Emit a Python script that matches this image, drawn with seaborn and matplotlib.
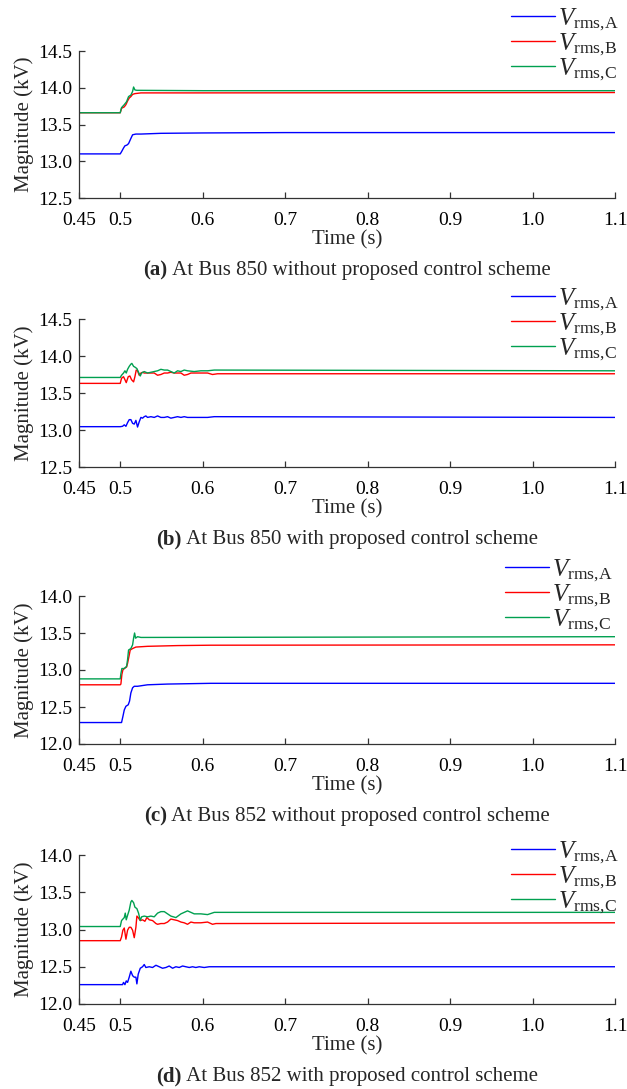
import matplotlib
matplotlib.use("Agg")
import matplotlib.pyplot as plt
import seaborn as sns

# ---------------- data ----------------
# Panel (a): Bus 850 without proposed control scheme
a_t_A = [0.45, 0.5, 0.5016, 0.5040, 0.5057, 0.5081, 0.5101, 0.5129, 0.5150, 0.5190, 0.5251, 0.5493, 0.60, 0.70, 1.1]
a_v_A = [13.10, 13.10, 13.13, 13.18, 13.21, 13.22, 13.24, 13.31, 13.36, 13.37, 13.37, 13.38, 13.385, 13.39, 13.39]
a_t_B = [0.45, 0.5, 0.5016, 0.5049, 0.5069, 0.5089, 0.5109, 0.5129, 0.5150, 0.5178, 0.5251, 0.5897, 1.1]
a_v_B = [13.66, 13.66, 13.72, 13.74, 13.77, 13.82, 13.86, 13.88, 13.91, 13.92, 13.93, 13.93, 13.935]
a_t_C = [0.45, 0.5, 0.5016, 0.5049, 0.5077, 0.5101, 0.5129, 0.5150, 0.5162, 0.5178, 0.5202, 0.60, 1.1]
a_v_C = [13.66, 13.66, 13.73, 13.77, 13.81, 13.88, 13.90, 13.95, 14.01, 13.97, 13.965, 13.96, 13.96]

# Panel (b): Bus 850 with proposed control scheme
b_t_A = [0.45, 0.5, 0.5028, 0.5049, 0.5069, 0.5089, 0.5109, 0.5129, 0.5150, 0.5170, 0.5190, 0.5210, 0.5230,
         0.5251, 0.5271, 0.5291, 0.5311, 0.5331, 0.5372, 0.5412, 0.5453, 0.5493, 0.5534, 0.5574, 0.5614,
         0.5655, 0.5695, 0.5736, 0.5776, 0.5816, 0.5897, 0.5978, 0.6059, 0.6140, 1.1]
b_v_A = [13.045, 13.045, 13.05, 13.07, 13.05, 13.10, 13.14, 13.14, 13.09, 13.08, 13.13, 13.04, 13.11,
         13.17, 13.16, 13.18, 13.19, 13.17, 13.18, 13.17, 13.19, 13.17, 13.17, 13.18, 13.16,
         13.17, 13.18, 13.17, 13.18, 13.17, 13.17, 13.17, 13.17, 13.18, 13.17]
b_t_B = [0.45, 0.5, 0.5016, 0.5040, 0.5057, 0.5073, 0.5097, 0.5117, 0.5137, 0.5162, 0.5178, 0.5194, 0.5210,
         0.5230, 0.5251, 0.5271, 0.5291, 0.5331, 0.5372, 0.5412, 0.5453, 0.5493, 0.5534, 0.5574, 0.5614,
         0.5655, 0.5736, 0.5776, 0.5816, 0.5857, 0.5897, 0.5978, 0.6059, 0.6119, 0.6180, 1.1]
b_v_B = [13.63, 13.63, 13.70, 13.72, 13.68, 13.64, 13.72, 13.73, 13.68, 13.65, 13.72, 13.81, 13.80,
         13.74, 13.77, 13.78, 13.77, 13.77, 13.77, 13.77, 13.74, 13.75, 13.77, 13.77, 13.78,
         13.77, 13.77, 13.74, 13.75, 13.77, 13.77, 13.77, 13.77, 13.75, 13.76, 13.76]
b_t_C = [0.45, 0.5, 0.5016, 0.5040, 0.5057, 0.5073, 0.5089, 0.5109, 0.5129, 0.5141, 0.5162, 0.5178, 0.5202,
         0.5218, 0.5243, 0.5259, 0.5291, 0.5331, 0.5412, 0.5453, 0.5493, 0.5534, 0.5574, 0.5614, 0.5655,
         0.5695, 0.5736, 0.5776, 0.5816, 0.5897, 0.5978, 0.6059, 0.6140, 1.1]
b_v_C = [13.71, 13.71, 13.74, 13.77, 13.80, 13.77, 13.82, 13.86, 13.89, 13.90, 13.86, 13.85, 13.83,
         13.79, 13.73, 13.77, 13.79, 13.77, 13.79, 13.80, 13.82, 13.81, 13.81, 13.79, 13.77,
         13.80, 13.79, 13.81, 13.80, 13.79, 13.80, 13.80, 13.81, 13.80]

# Panel (c): Bus 852 without proposed control scheme
c_t_A = [0.45, 0.5016, 0.5032, 0.5049, 0.5069, 0.5097, 0.5113, 0.5129, 0.5150, 0.5170, 0.5210, 0.5331, 0.5574, 0.6099, 1.1]
c_v_A = [12.29, 12.29, 12.37, 12.46, 12.51, 12.53, 12.58, 12.69, 12.76, 12.78, 12.78, 12.80, 12.81, 12.82, 12.82]
c_t_B = [0.45, 0.5, 0.5008, 0.5020, 0.5032, 0.5049, 0.5077, 0.5089, 0.5109, 0.5121, 0.5150, 0.5190, 0.5331, 0.5695, 0.6099, 1.1]
c_v_B = [12.80, 12.80, 12.81, 12.94, 13.00, 13.02, 13.04, 13.09, 13.20, 13.27, 13.29, 13.31, 13.32, 13.33, 13.335, 13.34]
c_t_C = [0.45, 0.5, 0.5008, 0.5020, 0.5049, 0.5077, 0.5089, 0.5101, 0.5129, 0.5150, 0.5162, 0.5174, 0.5186, 0.5210, 0.5251, 1.1]
c_v_C = [12.88, 12.88, 12.95, 13.02, 13.02, 13.05, 13.14, 13.27, 13.29, 13.34, 13.43, 13.50, 13.43, 13.45, 13.44, 13.45]

# Panel (d): Bus 852 with proposed control scheme
d_t_A = [0.45, 0.5, 0.5028, 0.5040, 0.5057, 0.5073, 0.5089, 0.5109, 0.5129, 0.5150, 0.5170, 0.5190, 0.5202,
         0.5218, 0.5243, 0.5271, 0.5291, 0.5311, 0.5352, 0.5392, 0.5433, 0.5473, 0.5513, 0.5554, 0.5594,
         0.5635, 0.5675, 0.5715, 0.5756, 0.5796, 0.5837, 0.5877, 0.5917, 0.5958, 0.6018, 0.6079, 0.6140, 1.1]
d_v_A = [12.26, 12.26, 12.26, 12.29, 12.26, 12.31, 12.29, 12.36, 12.44, 12.38, 12.36, 12.36, 12.27,
         12.40, 12.48, 12.50, 12.53, 12.49, 12.50, 12.49, 12.52, 12.50, 12.48, 12.49, 12.51,
         12.48, 12.50, 12.49, 12.51, 12.50, 12.49, 12.50, 12.49, 12.50, 12.49, 12.50, 12.50, 12.50]
d_t_B = [0.45, 0.5, 0.5016, 0.5032, 0.5049, 0.5069, 0.5089, 0.5109, 0.5129, 0.5150, 0.5170, 0.5190, 0.5202,
         0.5218, 0.5243, 0.5271, 0.5299, 0.5323, 0.5352, 0.5392, 0.5433, 0.5453, 0.5493, 0.5534, 0.5574,
         0.5614, 0.5655, 0.5695, 0.5736, 0.5776, 0.5816, 0.5857, 0.5897, 0.5978, 0.6059, 0.6119, 0.6160, 1.1]
d_v_B = [12.85, 12.85, 12.90, 12.99, 13.02, 12.87, 12.99, 13.03, 13.03, 12.99, 12.89, 13.03, 13.18,
         13.16, 13.12, 13.13, 13.11, 13.16, 13.13, 13.12, 13.08, 13.07, 13.08, 13.08, 13.10,
         13.14, 13.13, 13.12, 13.10, 13.09, 13.07, 13.10, 13.09, 13.09, 13.10, 13.07, 13.08, 13.09]
d_t_C = [0.45, 0.5, 0.5016, 0.5032, 0.5049, 0.5061, 0.5073, 0.5089, 0.5109, 0.5129, 0.5141, 0.5162, 0.5178,
         0.5202, 0.5222, 0.5243, 0.5259, 0.5291, 0.5331, 0.5372, 0.5412, 0.5453, 0.5493, 0.5534, 0.5574,
         0.5614, 0.5675, 0.5736, 0.5816, 0.5857, 0.5897, 0.5978, 0.6059, 0.6140, 0.6180, 1.1]
d_v_C = [13.04, 13.04, 13.12, 13.14, 13.16, 13.22, 13.13, 13.19, 13.26, 13.37, 13.39, 13.36, 13.30,
         13.28, 13.22, 13.12, 13.17, 13.18, 13.17, 13.18, 13.17, 13.22, 13.24, 13.24, 13.21,
         13.18, 13.16, 13.21, 13.25, 13.23, 13.21, 13.21, 13.20, 13.23, 13.23, 13.23]

x_ticks = [0.45, 0.5, 0.6, 0.7, 0.8, 0.9, 1.0, 1.1]
x_tick_labels = ["0.45", "0.5", "0.6", "0.7", "0.8", "0.9", "1.0", "1.1"]
y_ticks_850 = [12.5, 13.0, 13.5, 14.0, 14.5]
y_ticks_852 = [12.0, 12.5, 13.0, 13.5, 14.0]
series_labels = [r"$V_{\mathrm{rms,\!A}}$", r"$V_{\mathrm{rms,\!B}}$", r"$V_{\mathrm{rms,\!C}}$"]
caption_tags = ["(a)", "(b)", "(c)", "(d)"]
caption_texts = [" At Bus 850 without proposed control scheme",
                 " At Bus 850 with proposed control scheme",
                 " At Bus 852 without proposed control scheme",
                 " At Bus 852 with proposed control scheme"]

# ---------------- style ----------------
sns.set_theme(style="ticks")
plt.rcParams["font.family"] = ["Liberation Serif", "DejaVu Serif"]
plt.rcParams["mathtext.fontset"] = "custom"
plt.rcParams["mathtext.rm"] = "Liberation Serif"
plt.rcParams["mathtext.it"] = "Liberation Serif:italic"
plt.rcParams["mathtext.bf"] = "Liberation Serif:bold"

colors = ["#0000ff", "#ff0000", "#00a050"]
W, H = 627, 1089
fig = plt.figure(figsize=(W / 100, H / 100), dpi=100)

# axes boxes in pixels (left, top, right, bottom)
boxes = [(79, 51, 615, 198), (79, 319, 615, 467), (79, 596, 615, 744), (79, 855, 615, 1004)]
legend_pos = [(511, 6), (511, 286), (505, 557), (511, 839)]

panels = [
    (a_t_A, a_v_A, a_t_B, a_v_B, a_t_C, a_v_C, y_ticks_850),
    (b_t_A, b_v_A, b_t_B, b_v_B, b_t_C, b_v_C, y_ticks_850),
    (c_t_A, c_v_A, c_t_B, c_v_B, c_t_C, c_v_C, y_ticks_852),
    (d_t_A, d_v_A, d_t_B, d_v_B, d_t_C, d_v_C, y_ticks_852),
]

caption_items = []
for i, (p, box) in enumerate(zip(panels, boxes)):
    l, t, r, b = box
    ax = fig.add_axes([l / W, 1 - b / H, (r - l) / W, (b - t) / H])
    tA, vA, tB, vB, tC, vC, yt = p
    for (tt, vv), col, lab in zip([(tA, vA), (tB, vB), (tC, vC)], colors, series_labels):
        sns.lineplot(x=tt, y=vv, ax=ax, color=col, lw=1.0, label=lab, sort=False, estimator=None)
    ax.set_xlim(0.45, 1.1)
    ax.set_ylim(yt[0], yt[-1])
    ax.set_xticks(x_ticks)
    ax.set_xticklabels(x_tick_labels)
    ax.set_yticks(yt)
    ax.set_yticklabels([f"{v:.1f}" for v in yt])
    ax.tick_params(direction="in", length=4, width=0.9, labelsize=14, colors="#333333",
                   labelcolor="black")
    ax.tick_params(axis="x", pad=10)
    ax.tick_params(axis="y", pad=5)
    for s in ["top", "right"]:
        ax.spines[s].set_visible(False)
    for s in ["left", "bottom"]:
        ax.spines[s].set_color("#333333")
        ax.spines[s].set_linewidth(0.9)
    ax.set_xlabel("Time (s)", fontsize=15, labelpad=1)
    ax.set_ylabel("Magnitude (kV)", fontsize=15, labelpad=3)
    lx, ly = legend_pos[i]
    leg = ax.legend(loc="upper left", bbox_to_anchor=(lx / W, 1 - ly / H),
                    bbox_transform=fig.transFigure, frameon=False, fontsize=18,
                    handlelength=1.75, handletextpad=0.15, labelspacing=-0.05,
                    borderpad=0, borderaxespad=0)
    cy = b + 72
    t1 = fig.text(0, 1 - cy / H, caption_tags[i], fontsize=15, fontweight="bold", va="center", ha="left")
    t2 = fig.text(0, 1 - cy / H, caption_texts[i], fontsize=15, va="center", ha="left")
    caption_items.append((t1, t2, (l + r) / 2))

fig.canvas.draw()
rend = fig.canvas.get_renderer()
for t1, t2, cx in caption_items:
    w1 = t1.get_window_extent(rend).width
    w2 = t2.get_window_extent(rend).width
    x0 = cx - (w1 + w2) / 2
    t1.set_x(x0 / W)
    t2.set_x((x0 + w1) / W)

fig.savefig("out.png", dpi=100)
